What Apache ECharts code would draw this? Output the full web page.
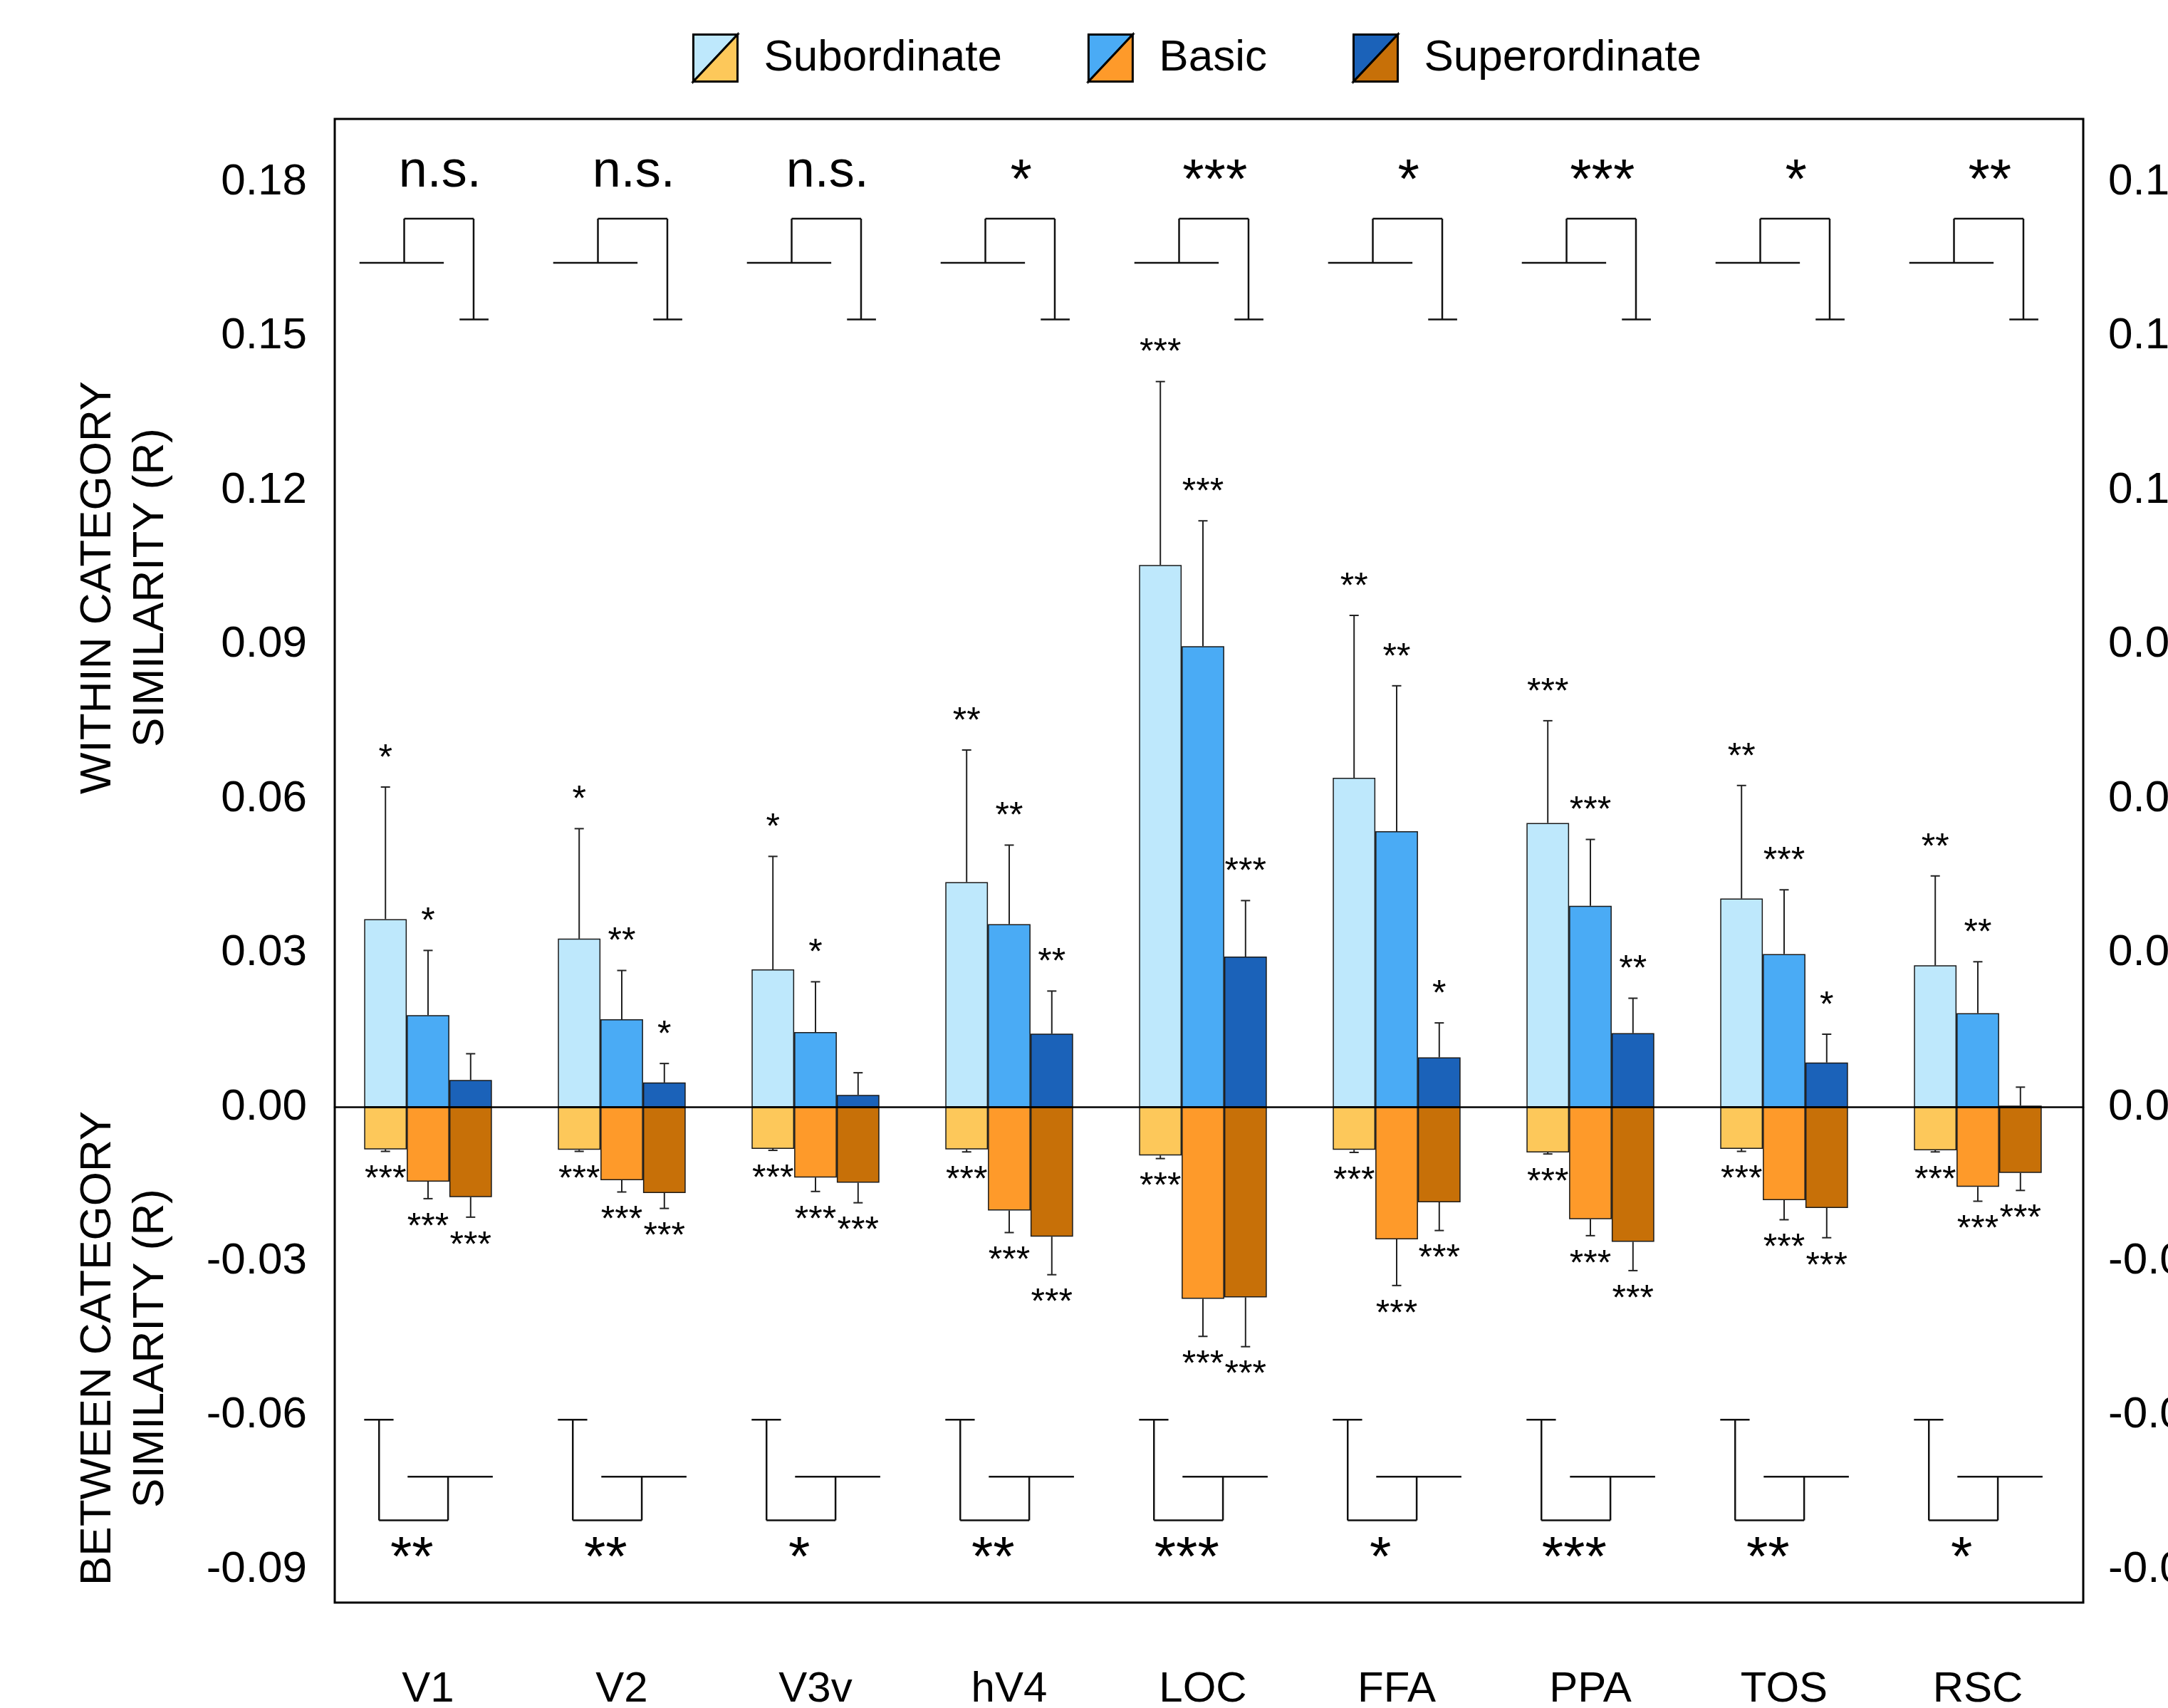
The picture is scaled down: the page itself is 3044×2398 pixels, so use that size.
<!DOCTYPE html>
<html>
<head>
<meta charset="utf-8">
<title>Within / between category similarity</title>
<script src="https://cdn.jsdelivr.net/npm/echarts@6/dist/echarts.min.js"></script>
<style>
  html, body { margin: 0; padding: 0; background: #fff; }
  #chart { width: 3044px; height: 2398px; }
</style>
</head>
<body>
<div id="chart"></div>
<script>
// regions of interest
var categories = ['V1', 'V2', 'V3v', 'hV4', 'LOC', 'FFA', 'PPA', 'TOS', 'RSC'];
var levels = ['Subordinate', 'Basic', 'Superordinate'];

// within category similarity (R) + error
var withinSub = [0.0366, 0.0328, 0.0268, 0.0438, 0.1055, 0.0641, 0.0553, 0.0406, 0.0276];
var withinSubErr = [0.0257, 0.0214, 0.0220, 0.0257, 0.0357, 0.0316, 0.0199, 0.0220, 0.0174];
var withinBasic = [0.0179, 0.0171, 0.0146, 0.0356, 0.0897, 0.0537, 0.0392, 0.0298, 0.0183];
var withinBasicErr = [0.0126, 0.0095, 0.0098, 0.0154, 0.0244, 0.0283, 0.0129, 0.0125, 0.0100];
var withinSuper = [0.0053, 0.0048, 0.0024, 0.0143, 0.0293, 0.0097, 0.0144, 0.0087, 0.0003];
var withinSuperErr = [0.0051, 0.0037, 0.0043, 0.0083, 0.0109, 0.0067, 0.0068, 0.0055, 0.0036];

// between category similarity (R) + error
var betweenSub = [-0.0082, -0.0083, -0.0081, -0.0082, -0.0094, -0.0083, -0.0088, -0.0081, -0.0084];
var betweenSubErr = [0.0004, 0.0003, 0.0003, 0.0005, 0.0006, 0.0005, 0.0003, 0.0005, 0.0003];
var betweenBasic = [-0.0145, -0.0142, -0.0137, -0.0201, -0.0373, -0.0257, -0.0218, -0.0181, -0.0155];
var betweenBasicErr = [0.0033, 0.0023, 0.0027, 0.0043, 0.0073, 0.0090, 0.0032, 0.0038, 0.0028];
var betweenSuper = [-0.0175, -0.0167, -0.0147, -0.0252, -0.0370, -0.0185, -0.0262, -0.0196, -0.0128];
var betweenSuperErr = [0.0039, 0.0030, 0.0039, 0.0074, 0.0096, 0.0055, 0.0056, 0.0058, 0.0034];

// significance marks
var withinSubSig = ['*', '*', '*', '**', '***', '**', '***', '**', '**'];
var withinBasicSig = ['*', '**', '*', '**', '***', '**', '***', '***', '**'];
var withinSuperSig = ['', '*', '', '**', '***', '*', '**', '*', ''];
var betweenSubSig = ['***', '***', '***', '***', '***', '***', '***', '***', '***'];
var betweenBasicSig = ['***', '***', '***', '***', '***', '***', '***', '***', '***'];
var betweenSuperSig = ['***', '***', '***', '***', '***', '***', '***', '***', '***'];
var withinTest = ['n.s.', 'n.s.', 'n.s.', '*', '***', '*', '***', '*', '**'];
var betweenTest = ['**', '**', '*', '**', '***', '*', '***', '**', '*'];

var yTicks = [-0.09, -0.06, -0.03, 0.00, 0.03, 0.06, 0.09, 0.12, 0.15, 0.18];

var blueColors = ['#BEE8FC', '#4AABF5', '#1B62B9'];
var orangeColors = ['#FDC85A', '#FE9A2A', '#C77008'];

var FONT = '"Liberation Sans", Arial, Helvetica, sans-serif';
var Y_MIN = -0.0964, Y_MAX = 0.1923;
var BAR_W = 59.8;   // px, one bar slot
var CAP = 6.5;

var chart = echarts.init(document.getElementById('chart'));

function barSeries(name, values, k, colors) {
    return {
        name: name,
        type: 'bar',
        stack: 's' + k,
        xAxisIndex: 0,
        yAxisIndex: 0,
        barWidth: BAR_W,
        barGap: '0%',
        data: values,
        itemStyle: { color: colors[k], borderColor: '#1a1a1a', borderWidth: 1.5 },
        z: 2
    };
}

// error bar + stars on top (dir 1) or below (dir -1)
function errorSeries(values, errs, sigs, k, dir) {
    return {
        type: 'custom',
        xAxisIndex: 0,
        yAxisIndex: 0,
        z: 4,
        silent: true,
        data: values.map(function (v, i) { return [i, v, errs[i]]; }),
        renderItem: function (params, api) {
            var i = api.value(0);
            var x = api.coord([i, 0])[0] + (k - 1) * BAR_W;
            var y0 = api.coord([i, api.value(1)])[1];
            var y1 = api.coord([i, api.value(1) + dir * api.value(2)])[1];
            var ls = { stroke: '#222', lineWidth: 2 };
            var kids = [
                { type: 'line', shape: { x1: x, y1: y0, x2: x, y2: y1 }, style: ls },
                { type: 'line', shape: { x1: x - CAP, y1: y1, x2: x + CAP, y2: y1 }, style: ls }
            ];
            var s = sigs[params.dataIndex];
            if (s) {
                kids.push({
                    type: 'text',
                    style: {
                        text: s, x: x, y: dir > 0 ? y1 - 39 : y1 + 41,
                        align: 'center', verticalAlign: 'middle',
                        font: '50px ' + FONT, fill: '#000'
                    }
                });
            }
            return { type: 'group', children: kids };
        }
    };
}

function seg(x1, y1, x2, y2) {
    return { type: 'line', shape: { x1: x1, y1: y1, x2: x2, y2: y2 }, style: { stroke: '#111', lineWidth: 2.5 } };
}

// comparison brackets above the bars
var topBrackets = {
    type: 'custom',
    xAxisIndex: 0,
    yAxisIndex: 0,
    silent: true,
    z: 4,
    data: categories.map(function (c, i) { return [i]; }),
    renderItem: function (params, api) {
        var i = api.value(0);
        var c = api.coord([i, 0])[0];
        var b = BAR_W;
        var yLow = api.coord([i, 0.1643])[1];
        var yTop = api.coord([i, 0.1729])[1];
        var yEnd = api.coord([i, 0.1533])[1];
        var yTxt = api.coord([i, 0.181])[1];
        var t = withinTest[params.dataIndex];
        var ns = t === 'n.s.';
        return {
            type: 'group',
            children: [
                seg(c - 1.61 * b, yLow, c + 0.37 * b, yLow),
                seg(c - 0.56 * b, yLow, c - 0.56 * b, yTop),
                seg(c - 0.56 * b, yTop, c + 1.07 * b, yTop),
                seg(c + 1.07 * b, yTop, c + 1.07 * b, yEnd),
                seg(c + 0.74 * b, yEnd, c + 1.42 * b, yEnd),
                {
                    type: 'text',
                    style: {
                        text: t, x: c + 0.28 * b, y: yTxt + (ns ? -6 : 8),
                        align: 'center', verticalAlign: 'middle',
                        font: (ns ? '72px ' : '78px ') + FONT, fill: '#000'
                    }
                }
            ]
        };
    }
};

// comparison brackets below the bars
var bottomBrackets = {
    type: 'custom',
    xAxisIndex: 0,
    yAxisIndex: 0,
    silent: true,
    z: 4,
    data: categories.map(function (c, i) { return [i]; }),
    renderItem: function (params, api) {
        var i = api.value(0);
        var c = api.coord([i, 0])[0];
        var b = BAR_W;
        var yHi = api.coord([i, -0.0608])[1];
        var yMid = api.coord([i, -0.0719])[1];
        var yLo = api.coord([i, -0.0804])[1];
        var yTxt = api.coord([i, -0.0881])[1];
        return {
            type: 'group',
            children: [
                seg(c - 1.5 * b, yHi, c - 0.81 * b, yHi),
                seg(c - 1.15 * b, yHi, c - 1.15 * b, yLo),
                seg(c - 1.15 * b, yLo, c + 0.47 * b, yLo),
                seg(c + 0.47 * b, yLo, c + 0.47 * b, yMid),
                seg(c - 0.48 * b, yMid, c + 1.52 * b, yMid),
                {
                    type: 'text',
                    style: {
                        text: betweenTest[params.dataIndex], x: c - 0.38 * b, y: yTxt,
                        align: 'center', verticalAlign: 'middle',
                        font: '78px ' + FONT, fill: '#000'
                    }
                }
            ]
        };
    }
};

var TRI_BLUE = 'path://M0,0L1,0L0,1Z';
var TRI_ORANGE = 'path://M1,0L1,1L0,1Z';

function legendOf(icon, colors, textColor) {
    return {
        left: 972,
        top: 47,
        padding: 0,
        itemWidth: 62,
        itemHeight: 66,
        itemGap: 120,
        symbolKeepAspect: false,
        selectedMode: false,
        data: levels.map(function (n, k) {
            return { name: n, icon: icon, itemStyle: { color: colors[k], borderColor: '#000', borderWidth: 3 } };
        }),
        textStyle: { fontFamily: FONT, fontSize: 62, color: textColor, padding: [0, 0, 0, 32] }
    };
}

var labelFmt = function (v) { return Number(v).toFixed(2); };

var option = {
    animation: false,
    backgroundColor: '#fff',
    legend: [
        legendOf(TRI_BLUE, blueColors, '#000'),
        legendOf(TRI_ORANGE, orangeColors, 'rgba(0,0,0,0)')
    ],
    grid: [
        { left: 465, right: 131, top: 167, bottom: 148, outerBoundsMode: 'none' },
        { left: 470, right: 119, top: 167, bottom: 148, outerBoundsMode: 'none', show: true, borderColor: '#000', borderWidth: 3, backgroundColor: 'rgba(0,0,0,0)' }
    ],
    xAxis: [
        {
            type: 'category', gridIndex: 0, data: categories,
            axisLine: { show: false }, axisTick: { show: false },
            axisLabel: { fontFamily: FONT, fontSize: 60, color: '#000', margin: 92 }
        },
        {
            type: 'category', gridIndex: 1, data: categories, z: 6,
            axisLine: { show: true, onZero: true, lineStyle: { color: '#000', width: 2.5 } },
            axisTick: { show: false }, axisLabel: { show: false }
        }
    ],
    yAxis: [
        {
            type: 'value', gridIndex: 0, min: Y_MIN, max: Y_MAX,
            axisLine: { show: false }, axisTick: { show: false }, splitLine: { show: false },
            axisLabel: { customValues: yTicks, formatter: labelFmt, fontFamily: FONT, fontSize: 62, color: '#000', margin: 34 }
        },
        {
            type: 'value', gridIndex: 1, position: 'right', min: Y_MIN, max: Y_MAX,
            axisLine: { show: false }, axisTick: { show: false }, splitLine: { show: false },
            axisLabel: { customValues: yTicks, formatter: labelFmt, fontFamily: FONT, fontSize: 62, color: '#000', margin: 35 }
        }
    ],
    graphic: [
        {
            type: 'text', x: 175, y: 825, rotation: Math.PI / 2,
            style: { text: 'WITHIN CATEGORY\nSIMILARITY (R)', font: '62px ' + FONT, lineHeight: 74, align: 'center', verticalAlign: 'middle', fill: '#000' }
        },
        {
            type: 'text', x: 175, y: 1893, rotation: Math.PI / 2,
            style: { text: 'BETWEEN CATEGORY\nSIMILARITY (R)', font: '62px ' + FONT, lineHeight: 74, align: 'center', verticalAlign: 'middle', fill: '#000' }
        }
    ],
    series: [
        barSeries('Subordinate', withinSub, 0, blueColors),
        barSeries('Basic', withinBasic, 1, blueColors),
        barSeries('Superordinate', withinSuper, 2, blueColors),
        barSeries('Subordinate', betweenSub, 0, orangeColors),
        barSeries('Basic', betweenBasic, 1, orangeColors),
        barSeries('Superordinate', betweenSuper, 2, orangeColors),
        errorSeries(withinSub, withinSubErr, withinSubSig, 0, 1),
        errorSeries(withinBasic, withinBasicErr, withinBasicSig, 1, 1),
        errorSeries(withinSuper, withinSuperErr, withinSuperSig, 2, 1),
        errorSeries(betweenSub, betweenSubErr, betweenSubSig, 0, -1),
        errorSeries(betweenBasic, betweenBasicErr, betweenBasicSig, 1, -1),
        errorSeries(betweenSuper, betweenSuperErr, betweenSuperSig, 2, -1),
        topBrackets,
        bottomBrackets
    ]
};

chart.setOption(option);
</script>
</body>
</html>
